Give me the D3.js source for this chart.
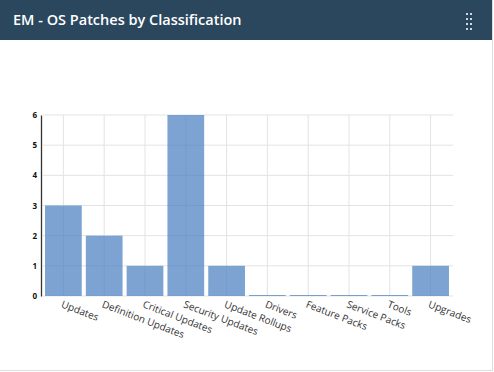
<!DOCTYPE html>
<meta charset="utf-8">
<head>
  <script src="https://d3js.org/d3.v7.min.js"></script>
  <style>
    body { margin: 0; background: #fff; font-family: "Open Sans", sans-serif; }
    #card { position: relative; width: 492px; height: 370px; border-right: 1px solid #ddd; border-bottom: 1px solid #ddd; }
    #head { height: 40px; background: #2a475e; color: #fff; }
    #head h1 { margin: 0; font-size: 14.5px; font-weight: 600; line-height: 40px; padding-left: 13px; }
    #dots { position: absolute; right: 18px; top: 12px; }
  </style>
</head>
<body>
<div id="card">
  <div id="head"><h1>EM - OS Patches by Classification</h1></div>
  <div id="my_dataviz"></div>
</div>
<script>
  // chart values
  var categories = ["Updates", "Definition Updates", "Critical Updates", "Security Updates", "Update Rollups",
                    "Drivers", "Feature Packs", "Service Packs", "Tools", "Upgrades"];
  var counts = [3, 2, 1, 6, 1, 0, 0, 0, 0, 1];
  var yTicks = [0, 1, 2, 3, 4, 5, 6];

  var data = categories.map(function(c, i) { return {name: c, value: counts[i]}; });

  // header dots
  var dots = d3.select("#head").append("svg").attr("id", "dots");
  dots.attr("width", 8).attr("height", 20);
  for (var r = 0; r < 4; r++) {
    for (var c = 0; c < 2; c++) {
      dots.append("rect").attr("x", c * 4).attr("y", r * 5 + 1).attr("width", 2).attr("height", 2).attr("fill", "#cfd8e0");
    }
  }

  var margin = {top: 75, left: 43},
      width = 408,
      height = 181;

  var svg = d3.select("#my_dataviz")
    .append("svg")
      .attr("width", 492)
      .attr("height", 330)
    .append("g")
      .attr("transform", "translate(" + margin.left + "," + margin.top + ")");

  var x = d3.scaleBand()
    .domain(categories)
    .range([0, width])
    .paddingInner(0.1)
    .paddingOuter(0.05);

  var y = d3.scaleLinear()
    .domain([0, 6])
    .range([height, 0]);

  // horizontal grid
  svg.append("g")
    .selectAll("line")
    .data(yTicks)
    .enter().append("line")
      .attr("x1", 0).attr("x2", width + 2)
      .attr("y1", function(d) { return y(d); })
      .attr("y2", function(d) { return y(d); })
      .attr("stroke", "#e3e3e3");

  // vertical grid at band centres
  svg.append("g")
    .selectAll("line")
    .data(categories)
    .enter().append("line")
      .attr("x1", function(d) { return x(d) + x.bandwidth() / 2; })
      .attr("x2", function(d) { return x(d) + x.bandwidth() / 2; })
      .attr("y1", 0).attr("y2", height)
      .attr("stroke", "#e3e3e3");

  // bars
  svg.selectAll("myRect")
    .data(data)
    .enter()
    .append("rect")
      .attr("x", function(d) { return x(d.name); })
      .attr("y", function(d) { return y(d.value) - (d.value === 0 ? 1 : 0); })
      .attr("width", x.bandwidth())
      .attr("height", function(d) { return Math.max(1, height - y(d.value)); })
      .attr("fill", "#4a7fc0")
      .attr("fill-opacity", 0.72);

  // Y axis
  var yAxis = svg.append("g")
    .attr("transform", "translate(-2,0)")
    .call(d3.axisLeft(y).tickValues(yTicks).tickSize(0).tickPadding(4).tickFormat(d3.format("d")));
  yAxis.select(".domain").attr("stroke", "#333").attr("stroke-width", 1.3);
  yAxis.selectAll("text")
    .style("font-family", "Open Sans, sans-serif")
    .style("font-size", "8px")
    .style("font-weight", "bold")
    .attr("fill", "#111");

  // X labels
  svg.append("g")
    .selectAll("text")
    .data(categories)
    .enter().append("text")
      .attr("transform", function(d) {
        return "translate(" + (x(d) + x.bandwidth() / 2 - 3) + "," + (height + 11) + ")rotate(21)";
      })
      .style("font-family", "Open Sans, sans-serif")
      .style("font-size", "10px")
      .attr("fill", "#333")
      .text(function(d) { return d; });
</script>
</body>
